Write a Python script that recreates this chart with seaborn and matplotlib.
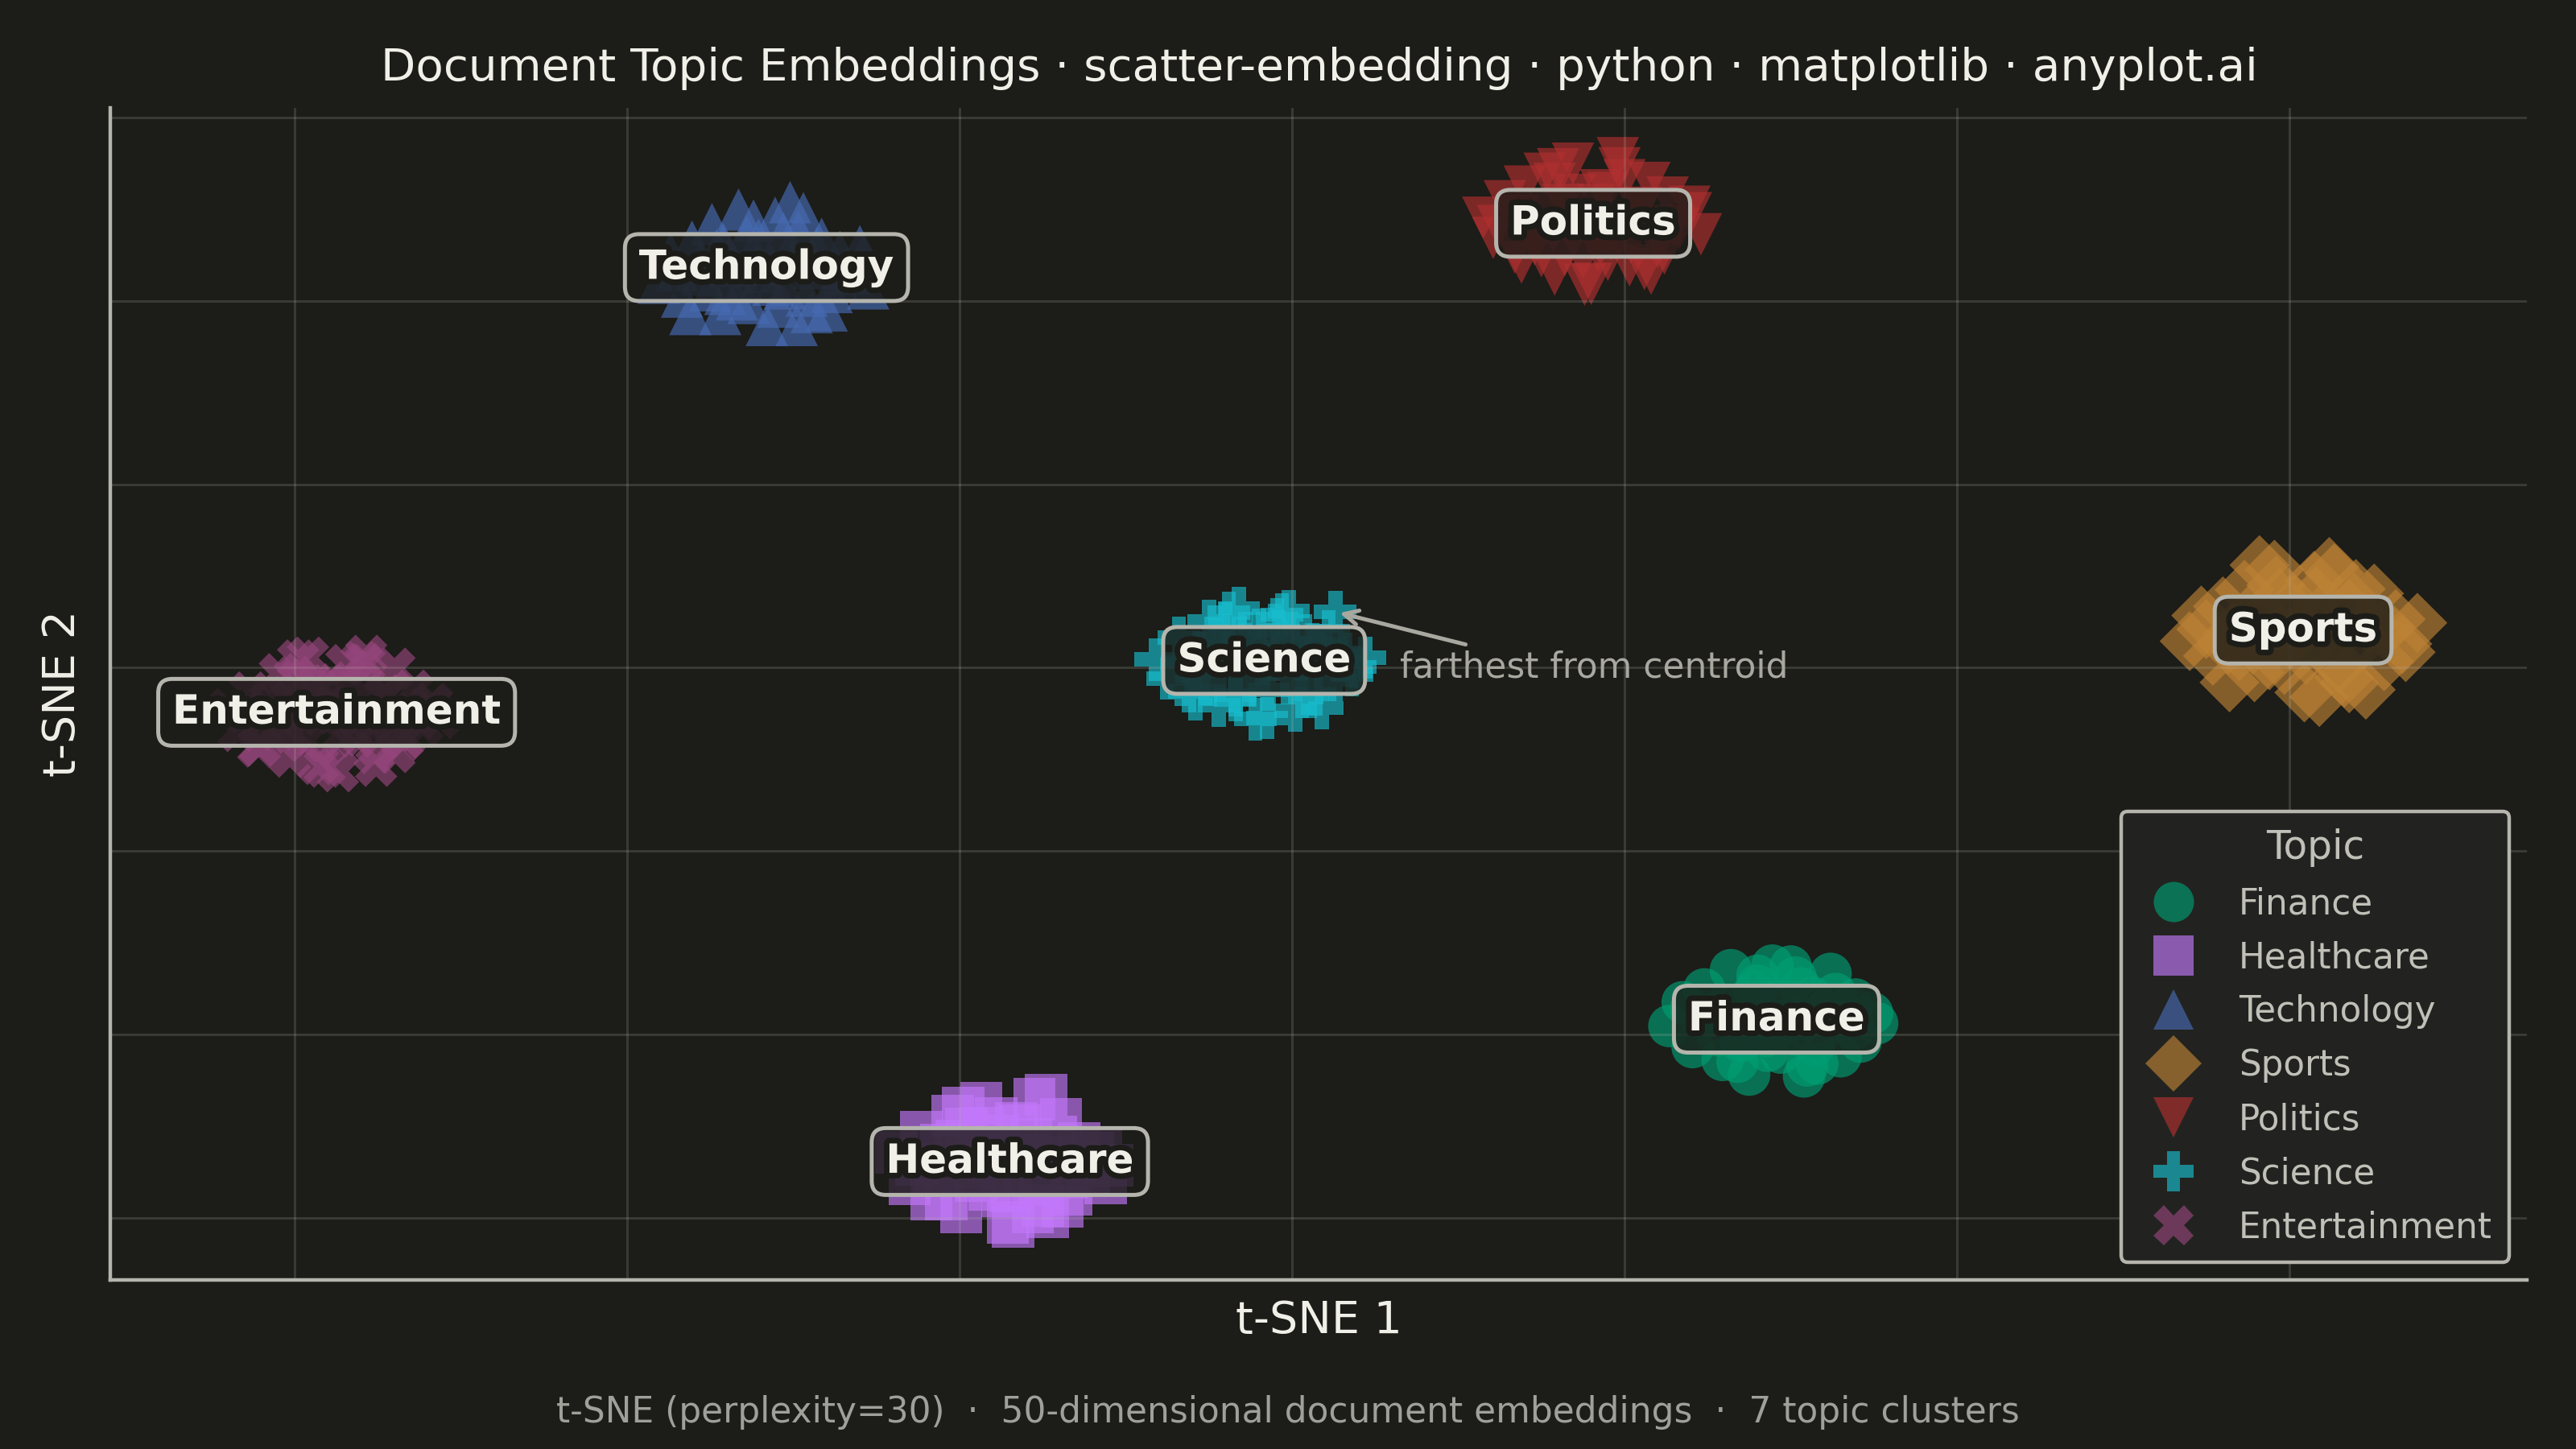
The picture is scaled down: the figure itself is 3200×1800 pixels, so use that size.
import numpy as np
import pandas as pd
import matplotlib.pyplot as plt
import matplotlib.patheffects as pe
from matplotlib.lines import Line2D
import seaborn as sns

# colours of the dark theme
BG = '#1c1c18'
INK = '#F0F0E8'
MUTED = '#A8A8A0'
SPINE = '#B5B5AD'

topics = ['Finance', 'Healthcare', 'Technology', 'Sports', 'Politics', 'Science', 'Entertainment']
topic_markers = ['o', 's', '^', 'D', 'v', 'P', 'X']
topic_colors = ['#009E73', '#C378FB', '#476BB4', '#BD8235', '#B03030', '#17BECF', '#96467C']

# 2-D t-SNE coordinates, one pair of lists per topic
finance_x = [22.7, 23.5, 24.1, 24.8, 25.3, 25.9, 26.4, 26.9, 27.5, 28.0, 28.5, 28.9, 29.4, 29.9, 30.3,
             30.8, 31.3, 31.9, 32.4, 33.0, 33.6, 34.2, 34.9, 35.2, 27.1, 29.7, 31.6, 25.6, 32.7, 28.3,
             26.0, 27.8, 29.2, 30.6, 32.0, 27.0, 28.6, 30.1, 31.4, 25.2, 33.8, 29.6, 26.8, 31.0, 28.0,
             30.0, 24.0, 33.9, 27.6, 30.5]
finance_y = [-39.1, -36.5, -41.4, -35.1, -37.8, -42.8, -33.0, -37.4, -44.4, -34.7, -40.2, -32.5, -42.0, -38.3, -33.8,
             -44.6, -36.0, -39.6, -33.4, -42.4, -36.9, -40.8, -37.7, -38.8, -40.6, -36.3, -43.2, -40.1, -35.6, -38.2,
             -37.0, -35.4, -36.2, -35.0, -37.6, -40.8, -41.8, -40.0, -41.2, -38.0, -39.4, -39.0, -43.0, -43.4, -33.6,
             -32.6, -37.2, -36.2, -38.8, -38.0]

healthcare_x = [-23.8, -23.0, -22.3, -21.7, -21.1, -20.4, -19.9, -19.3, -18.7, -18.2, -17.7, -17.1, -16.6, -16.1, -15.5,
                -15.0, -14.4, -13.9, -13.3, -12.8, -12.2, -11.5, -10.8, -19.6, -16.9, -14.7, -21.4, -13.1, -18.0, -15.7,
                -20.2, -18.6, -16.4, -14.2, -12.0, -19.0, -17.4, -15.2, -13.6, -22.6, -11.2, -16.0, -18.4, -14.8, -20.8,
                -16.8, -19.8, -13.8, -17.8, -15.6]
healthcare_y = [-52.9, -56.3, -50.7, -58.0, -52.1, -48.9, -59.4, -54.6, -47.5, -56.9, -51.1, -60.5, -49.7, -55.4, -47.1,
                -58.7, -53.4, -49.3, -57.5, -51.9, -55.1, -52.3, -54.3, -50.3, -57.1, -59.9, -54.9, -53.9, -53.1, -51.5,
                -51.6, -50.2, -50.0, -51.2, -53.0, -56.0, -57.6, -56.4, -55.6, -54.2, -56.2, -53.2, -53.6, -46.6, -58.0,
                -61.0, -48.0, -58.8, -49.2, -59.4]

technology_x = [-38.1, -37.4, -36.7, -36.1, -35.5, -34.9, -34.4, -33.8, -33.3, -32.7, -32.1, -31.6, -31.1, -30.5, -30.0,
                -29.4, -28.9, -28.3, -27.7, -27.2, -26.6, -26.0, -25.5, -33.0, -30.9, -28.8, -35.6, -32.2, -29.7, -34.1,
                -34.6, -32.8, -30.6, -28.6, -26.8, -35.0, -33.4, -31.2, -29.2, -37.0, -25.8, -31.8, -33.8, -30.2, -36.2,
                -28.0, -32.4, -29.8, -34.2, -27.4]
technology_y = [42.0, 45.2, 40.5, 46.5, 42.9, 48.4, 38.6, 44.8, 50.0, 39.8, 46.7, 37.4, 49.1, 41.4, 44.3,
                49.6, 38.8, 46.8, 41.0, 45.4, 43.0, 46.0, 41.4, 42.2, 39.4, 43.6, 44.2, 44.0, 47.6, 40.8,
                45.6, 47.0, 47.4, 45.8, 43.6, 41.2, 40.2, 41.8, 40.6, 43.4, 45.0, 43.2, 43.8, 50.8, 38.6,
                39.0, 48.8, 37.4, 46.2, 42.6]

sports_x = [54.0, 54.7, 55.4, 56.0, 56.6, 57.3, 57.9, 58.5, 59.1, 59.7, 60.3, 60.9, 61.5, 62.1, 62.7,
            63.3, 63.9, 64.5, 65.1, 65.7, 66.4, 67.0, 67.7, 57.8, 60.6, 63.6, 59.4, 61.8, 64.8, 56.3,
            57.6, 59.4, 61.6, 63.6, 65.8, 57.0, 58.8, 61.0, 63.0, 55.0, 66.8, 60.6, 58.2, 62.4, 56.4,
            64.6, 60.0, 61.8, 59.2, 64.0]
sports_y = [2.9, 5.7, 1.3, 6.7, 3.7, 8.5, -0.5, 5.5, 10.7, 0.3, 6.9, -2.7, 9.5, 2.1, 10.3,
            -1.1, 7.1, 3.1, 8.1, 0.7, 5.3, 1.7, 4.9, 2.5, 4.5, -1.7, 3.3, 5.7, 4.7, 2.5,
            5.8, 7.6, 7.8, 6.4, 4.4, 1.8, 0.8, 1.4, 0.4, 4.2, 2.6, 4.0, 11.2, 11.0, -1.6,
            -2.4, 3.4, -3.2, 9.0, 8.6]

politics_x = [11.5, 12.1, 12.8, 13.4, 14.0, 14.6, 15.2, 15.8, 16.3, 16.9, 17.5, 18.0, 18.6, 19.2, 19.7,
              20.3, 20.9, 21.5, 22.0, 22.6, 23.3, 23.9, 24.6, 15.0, 17.2, 19.0, 21.2, 13.6, 18.4, 20.0,
              15.4, 17.0, 19.0, 21.0, 23.0, 14.6, 16.4, 18.4, 20.4, 12.4, 24.0, 18.2, 16.0, 20.0, 13.8,
              22.4, 17.6, 19.6, 15.8, 21.6]
politics_y = [49.1, 46.9, 50.9, 45.3, 52.5, 47.5, 53.9, 42.9, 50.5, 55.0, 44.7, 41.9, 52.1, 46.7, 54.5,
              43.9, 49.7, 52.9, 45.9, 51.3, 47.9, 50.3, 47.3, 44.9, 48.7, 44.5, 43.5, 49.3, 50.5, 48.9,
              50.0, 51.6, 51.8, 50.2, 48.2, 46.2, 45.0, 45.6, 46.4, 48.2, 49.6, 48.0, 54.4, 53.2, 44.2,
              45.2, 41.8, 55.6, 52.8, 43.0]

science_x = [-8.2, -7.5, -6.8, -6.2, -5.6, -5.0, -4.4, -3.8, -3.2, -2.6, -2.0, -1.5, -0.9, -0.3, 0.2,
             0.8, 1.4, 2.0, 2.6, 3.2, 3.8, 4.4, 2.6, -3.4, -1.2, 0.5, -5.3, -2.3, 0.0, -4.6,
             -4.4, -2.8, -0.8, 1.2, 3.0, -5.2, -3.4, -1.4, 0.6, -6.6, 3.6, -1.8, -3.8, -0.2, -5.8,
             1.8, -2.2, -0.6, -4.0, 2.2]
science_y = [0.9, -1.2, 3.3, -2.6, 1.7, 5.1, -4.1, 1.3, 6.5, -1.9, 4.1, -5.5, 5.3, -0.7, -4.7,
             3.5, -2.9, 2.5, -1.3, 1.5, 0.1, 1.1, 6.1, -3.5, 0.9, -0.3, -0.3, 2.3, 2.7, 3.1,
             2.4, 3.8, 4.0, 2.6, 0.8, -1.8, -3.0, -2.4, -3.2, 0.6, -0.8, 0.4, 6.0, 6.2, -3.4,
             -4.4, -5.6, 5.8, 4.8, 4.0]

entertainment_x = [-64.0, -63.4, -62.7, -62.1, -61.5, -60.9, -60.3, -59.7, -59.2, -58.6, -58.0, -57.4, -56.9, -56.3, -55.7,
                   -55.2, -54.6, -54.0, -53.5, -52.9, -52.3, -51.7, -51.3, -60.2, -57.7, -55.1, -61.7, -56.5, -54.1, -58.7,
                   -60.4, -58.8, -56.6, -54.6, -52.8, -61.0, -59.4, -57.2, -55.2, -63.0, -51.8, -57.6, -59.8, -56.0, -62.2,
                   -54.0, -58.2, -55.8, -60.0, -53.4]
entertainment_y = [-4.5, -6.9, -2.7, -8.5, -3.7, -0.7, -9.7, -5.1, 1.1, -10.5, -1.9, -11.3, 0.3, -7.5, 1.3,
                   -9.3, -3.1, -0.1, -7.9, -2.5, -6.3, -3.9, -5.5, -7.1, -4.3, -10.7, -5.5, -5.9, -5.9, -2.3,
                   -3.2, -1.8, -1.6, -3.0, -5.0, -6.8, -8.0, -7.4, -6.6, -4.8, -4.0, -5.0, 0.8, 0.6, -8.6,
                   -9.2, -10.8, 0.4, -1.0, -7.6]

coords = {
    'Finance': (finance_x, finance_y),
    'Healthcare': (healthcare_x, healthcare_y),
    'Technology': (technology_x, technology_y),
    'Sports': (sports_x, sports_y),
    'Politics': (politics_x, politics_y),
    'Science': (science_x, science_y),
    'Entertainment': (entertainment_x, entertainment_y),
}

df = pd.concat([pd.DataFrame({'x': xs, 'y': ys, 'Topic': name}) for name, (xs, ys) in coords.items()],
               ignore_index=True)

palette = dict(zip(topics, topic_colors))
marker_map = dict(zip(topics, topic_markers))

sns.set_style('dark', {
    'axes.facecolor': BG, 'figure.facecolor': BG, 'axes.edgecolor': SPINE,
    'grid.color': SPINE, 'text.color': INK, 'axes.labelcolor': INK,
})
plt.rcParams['font.family'] = ['DejaVu Sans']

fig, ax = plt.subplots(figsize=(16, 9), dpi=200)
fig.subplots_adjust(left=0.0428, right=0.981, bottom=0.1167, top=0.9256)

sns.scatterplot(data=df, x='x', y='y', hue='Topic', style='Topic',
                hue_order=topics, style_order=topics,
                palette=palette, markers=marker_map,
                s=360, alpha=0.65, linewidth=0, legend=False, ax=ax)

# grid drawn over the points, no tick labels
ax.set_axisbelow(False)
ax.set_xticks([-60, -40, -20, 0, 20, 40, 60])
ax.set_yticks([-60, -40, -20, 0, 20, 40, 60])
ax.set_xticklabels([])
ax.set_yticklabels([])
ax.tick_params(length=0)
ax.grid(True, color=SPINE, alpha=0.2, linewidth=1.1)
ax.set_xlim(-71.1, 74.3)
ax.set_ylim(-66.8, 61.1)
for side in ['top', 'right']:
    ax.spines[side].set_visible(False)
for side in ['left', 'bottom']:
    ax.spines[side].set_color(SPINE)
    ax.spines[side].set_linewidth(1.6)

# topic label at every cluster centroid
for name in topics:
    xs, ys = coords[name]
    cx, cy = np.mean(xs), np.mean(ys)
    ax.text(cx, cy, name, ha='center', va='center', fontsize=18, fontweight='bold', color=INK,
            path_effects=[pe.withStroke(linewidth=5, foreground=BG)],
            bbox=dict(boxstyle='round,pad=0.35', fc=(0.11, 0.11, 0.094, 0.8), ec=SPINE, lw=1.8),
            zorder=5)

# point of the Science cluster farthest from its centroid
sx, sy = np.array(science_x), np.array(science_y)
far = np.argmax(np.hypot(sx - sx.mean(), sy - sy.mean()))
ax.annotate('farthest from centroid', xy=(sx[far], sy[far]), xytext=(6.5, 0.0),
            ha='left', va='center', fontsize=15.8, color=MUTED,
            arrowprops=dict(arrowstyle='->', color=MUTED, lw=1.8, relpos=(0.23, 1.0)),
            zorder=6)

handles = [Line2D([], [], marker=m, linestyle='none', markersize=18, markeredgewidth=0,
                  markerfacecolor=c, alpha=0.65, label=t)
           for t, m, c in zip(topics, topic_markers, topic_colors)]
leg = ax.legend(handles=handles, title='Topic', loc='lower right', fontsize=15.7, title_fontsize=17.5,
                labelspacing=0.55, handletextpad=0.85, borderpad=0.5,
                facecolor='#222320', edgecolor=SPINE, framealpha=1.0, fancybox=True)
leg.get_frame().set_linewidth(1.6)
for txt in leg.get_texts():
    txt.set_color('#C0C0B8')
leg.get_title().set_color('#C0C0B8')

ax.set_xlabel('t-SNE 1', fontsize=20, color=INK, labelpad=5)
ax.set_ylabel('t-SNE 2', fontsize=20, color=INK, labelpad=8)

fig.text(0.512, 0.953, 'Document Topic Embeddings · scatter-embedding · python · matplotlib · anyplot.ai',
         ha='center', va='center', fontsize=20.3, color=INK)
fig.text(0.5, 0.025,
         't-SNE (perplexity=30)  ·  50-dimensional document embeddings  ·  7 topic clusters',
         ha='center', va='center', fontsize=15.8, color='#A0A09A')

fig.savefig('out.png', dpi=200, facecolor=BG)
